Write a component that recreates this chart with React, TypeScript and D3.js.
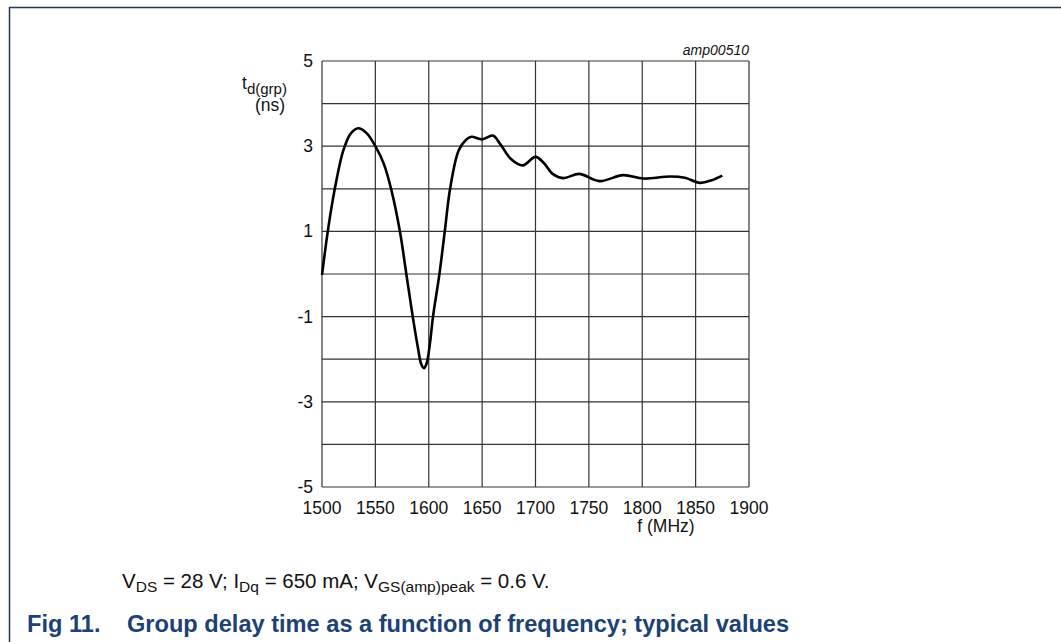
import React from 'react';
import * as d3 from 'd3';

const W = 1061;
const H = 642;

// frequency (MHz) and group delay (ns)
const freq = [
  1500, 1506, 1512, 1520, 1527, 1534, 1542, 1550, 1558, 1565, 1573, 1579, 1585, 1590, 1593,
  1595.5, 1598, 1601, 1604, 1610, 1615, 1620, 1628, 1635, 1640, 1650, 1660, 1667, 1677, 1688,
  1700, 1708, 1716, 1726, 1741, 1760, 1782, 1801, 1826, 1840, 1854, 1865, 1875,
];
const delay = [
  -0.02, 1.1, 2.0, 2.9, 3.3, 3.42, 3.3, 3.0, 2.58, 1.97, 1.0, 0.0, -1.0, -1.75, -2.12,
  -2.21, -2.1, -1.65, -1.0, 0.0, 1.0, 2.0, 2.9, 3.15, 3.22, 3.16, 3.25, 3.05, 2.7, 2.55,
  2.75, 2.6, 2.35, 2.25, 2.35, 2.18, 2.32, 2.24, 2.29, 2.26, 2.14, 2.2, 2.31,
];

const xTicks = [1500, 1550, 1600, 1650, 1700, 1750, 1800, 1850, 1900];
const yGrid = [-5, -4, -3, -2, -1, 0, 1, 2, 3, 4, 5];
const yLabels = [5, 3, 1, -1, -3, -5];

const frame = '#1b3a5c';
const font = 'Arial, "Liberation Sans", sans-serif';

export default function App() {
  const x = d3.scaleLinear().domain([1500, 1900]).range([322, 749]);
  const y = d3.scaleLinear().domain([-5, 5]).range([487, 61]);

  const pts: [number, number][] = freq.map((f, i) => [f, delay[i]]);
  const line = d3
    .line<[number, number]>()
    .x((d) => x(d[0]))
    .y((d) => y(d[1]))
    .curve(d3.curveCatmullRom.alpha(0.5));

  return (
    <svg
      width={W}
      height={H}
      style={{ position: 'absolute', left: 0, top: 0, background: '#fff' }}
      fontFamily={font}
    >
      {/* page frame */}
      <line x1={9} x2={W} y1={7.5} y2={7.5} stroke={frame} strokeWidth={1.5} />
      <line x1={9.5} x2={9.5} y1={7} y2={H} stroke={frame} strokeWidth={1.5} />

      {/* grid */}
      {xTicks.map((t) => (
        <line key={'x' + t} x1={x(t)} x2={x(t)} y1={y(5)} y2={y(-5)} stroke="#333" strokeWidth={1.2} />
      ))}
      {yGrid.map((t) => (
        <line key={'y' + t} x1={x(1500)} x2={x(1900)} y1={y(t)} y2={y(t)} stroke="#333" strokeWidth={1.2} />
      ))}

      {/* curve */}
      <path d={line(pts) ?? ''} fill="none" stroke="#000" strokeWidth={2.6} strokeLinejoin="round" />

      {/* y tick labels */}
      {yLabels.map((t) => (
        <text key={'yl' + t} x={x(1500) - 9} y={y(t) + 6} fontSize={17.5} textAnchor="end" fill="#111">
          {t}
        </text>
      ))}
      {/* x tick labels */}
      {xTicks.map((t) => (
        <text key={'xl' + t} x={x(t)} y={514} fontSize={17.5} textAnchor="middle" fill="#111">
          {t}
        </text>
      ))}

      <text x={666} y={532} fontSize={17.5} textAnchor="middle" fill="#111">
        f (MHz)
      </text>

      {/* y axis title */}
      <text x={242} y={89} fontSize={17.5} fill="#111">
        t<tspan dy={5} fontSize={15}>d(grp)</tspan>
      </text>
      <text x={270} y={111} fontSize={17.5} textAnchor="middle" fill="#111">
        (ns)
      </text>

      <text x={749} y={55} fontSize={14} fontStyle="italic" textAnchor="end" fill="#111">
        amp00510
      </text>

      {/* conditions */}
      <text x={122} y={588} fontSize={20.5} fill="#111">
        V<tspan dy={4} fontSize={15.5}>DS</tspan>
        <tspan dy={-4}> = 28 V; I</tspan>
        <tspan dy={4} fontSize={15.5}>Dq</tspan>
        <tspan dy={-4}> = 650 mA; V</tspan>
        <tspan dy={4} fontSize={15.5}>GS(amp)peak</tspan>
        <tspan dy={-4}> = 0.6 V.</tspan>
      </text>

      <text x={27} y={632} fontSize={23.6} fontWeight="bold" fill="#1c4275">
        Fig 11.<tspan x={127}>Group delay time as a function of frequency; typical values</tspan>
      </text>
    </svg>
  );
}
